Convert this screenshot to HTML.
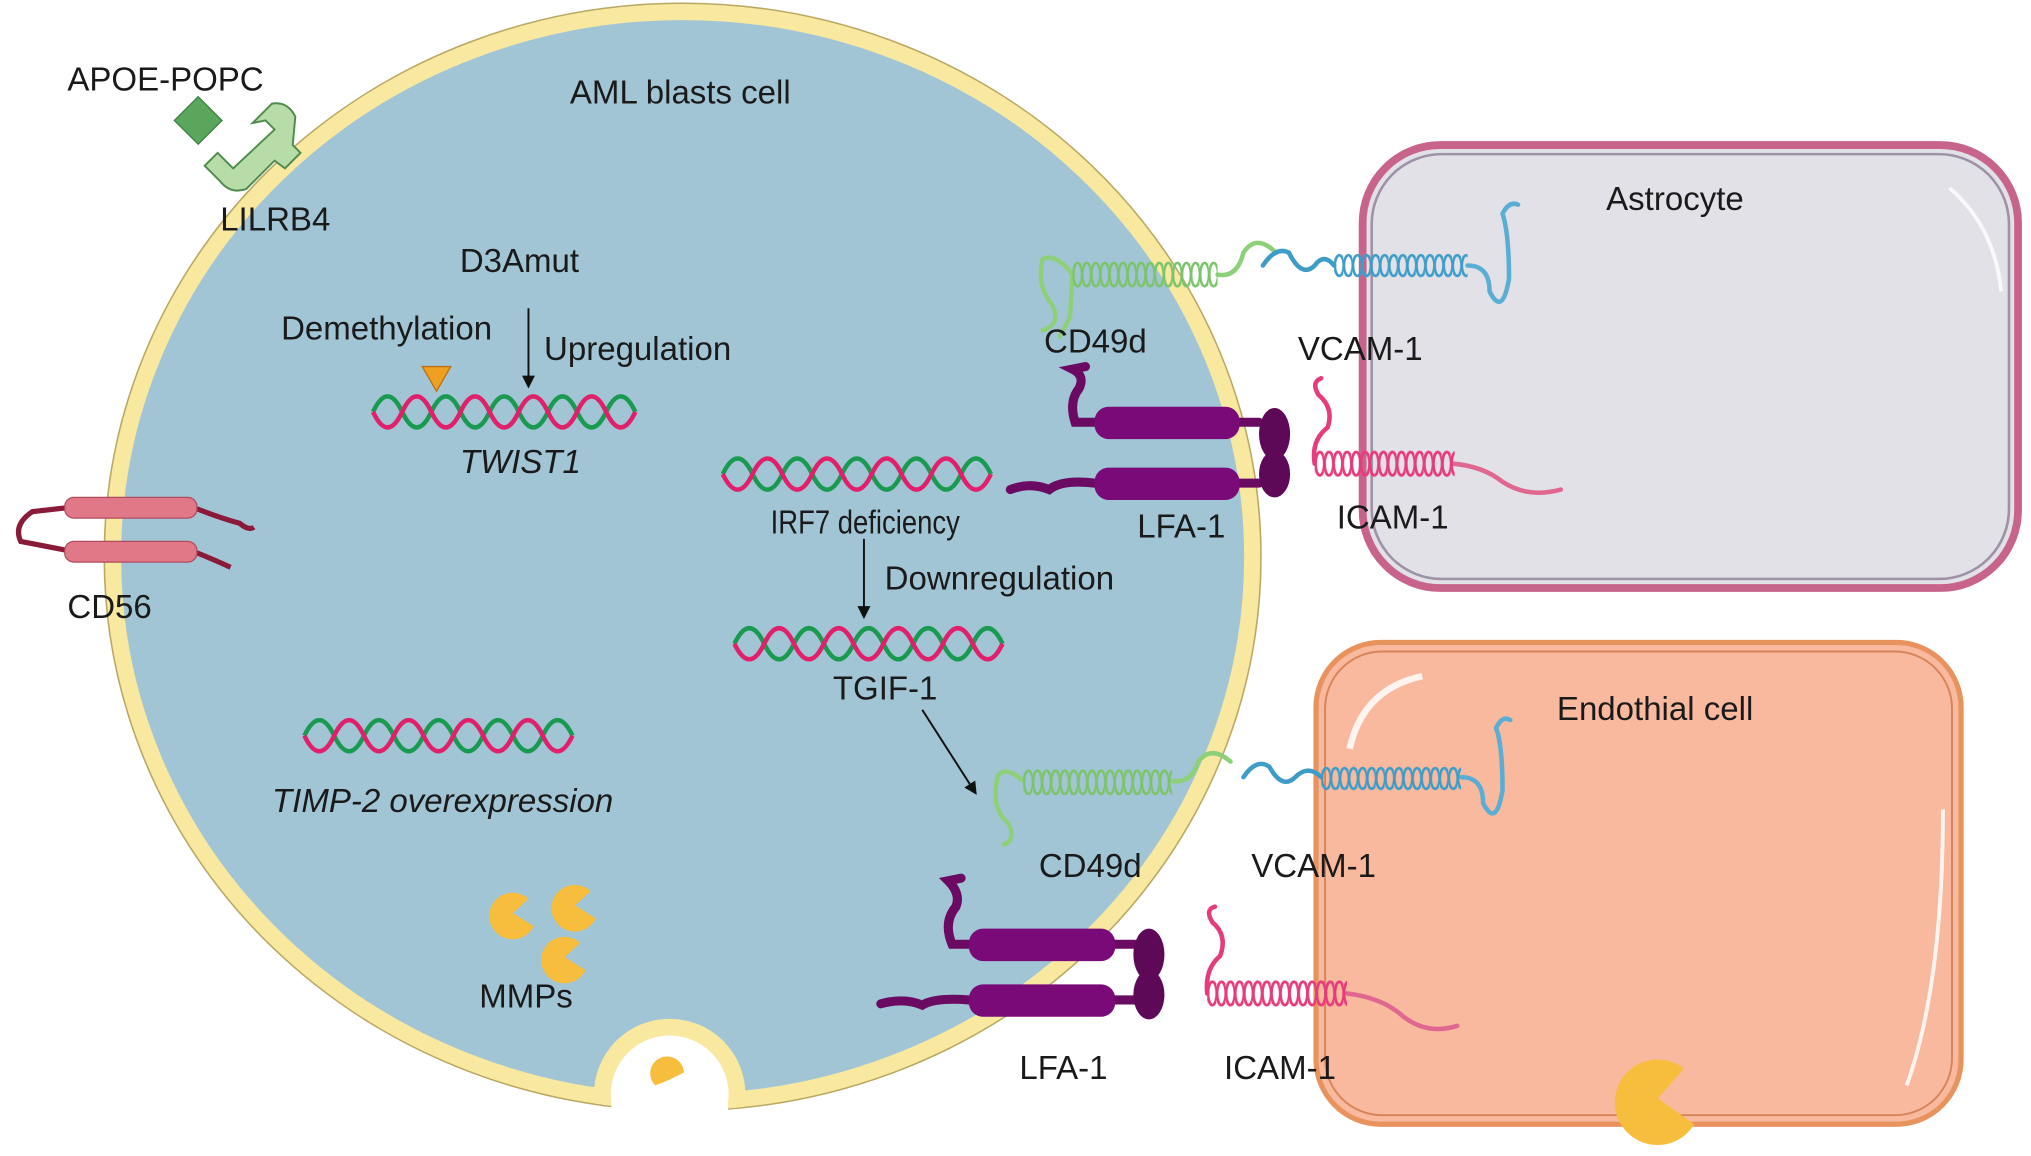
<!DOCTYPE html>
<html><head><meta charset="utf-8"><style>
html,body{margin:0;padding:0;background:#fff;width:2031px;height:1156px;overflow:hidden}
svg{display:block}
text{font-family:"Liberation Sans",Arial,sans-serif;font-size:25.5px;fill:#1a1a1a}
</style></head><body>
<svg width="2031" height="1156" viewBox="0 0 1568 892.5" preserveAspectRatio="none" xmlns="http://www.w3.org/2000/svg">
<defs>
<clipPath id="cellclip"><ellipse cx="527" cy="430" rx="446" ry="427"/></clipPath>
<pattern id="cg" width="7" height="24" patternUnits="userSpaceOnUse"><ellipse cx="4" cy="12" rx="3.4" ry="9" fill="none" stroke="#7cc46a" stroke-width="2"/></pattern>
<pattern id="cb" width="7" height="24" patternUnits="userSpaceOnUse"><ellipse cx="4" cy="12" rx="3.4" ry="8" fill="none" stroke="#3d9cc8" stroke-width="2"/></pattern>
<pattern id="cp" width="7" height="24" patternUnits="userSpaceOnUse"><ellipse cx="4" cy="12" rx="3.4" ry="9" fill="none" stroke="#e63c7c" stroke-width="2.2"/></pattern>
<marker id="ah" markerWidth="10" markerHeight="10" refX="8" refY="5" orient="auto" markerUnits="userSpaceOnUse"><path d="M0,0 L10,5 L0,10 Z" fill="#111"/></marker>
</defs>

<rect x="1052" y="112" width="506" height="342" rx="60" fill="#e2e1e8" stroke="#c8648c" stroke-width="6"/>
<rect x="1059" y="119" width="492" height="328" rx="54" fill="none" stroke="#9e92a6" stroke-width="2"/>
<path d="M1505 145 Q1540 175 1545 225" stroke="#fff" stroke-width="3" fill="none" opacity="0.8"/>
<rect x="1016" y="496" width="498" height="372" rx="50" fill="#f9b99e" stroke="#e8935e" stroke-width="4"/>
<rect x="1023" y="503" width="484" height="358" rx="44" fill="none" stroke="#d8845a" stroke-width="1.5"/>
<path d="M1042 578 Q1052 532 1098 522" stroke="#fff" stroke-width="5" fill="none" opacity="0.85"/>
<path d="M1500 625 Q1500 760 1472 838" stroke="#fff" stroke-width="3" fill="none" opacity="0.85"/>

<ellipse cx="527" cy="430" rx="440" ry="421" fill="#a2c5d6" stroke="#f8e8a0" stroke-width="13"/>
<ellipse cx="527" cy="430" rx="446.5" ry="427.5" fill="none" stroke="#b8a862" stroke-width="1.2"/>
<g clip-path="url(#cellclip)"><circle cx="517" cy="845" r="52" fill="#fff" stroke="#f8e8a0" stroke-width="13"/></g>
<rect x="472" y="842" width="90" height="25" fill="#fff"/>
<path d="M506 838 A13 13 0 1 1 528 828 L516 834 Z" fill="#f7bd3c"/>

<rect x="140" y="80" width="26" height="26" fill="#5aa65c" stroke="#3f7f44" transform="rotate(45 153 93)"/>
<path d="M195 95 L210 80 Q222 78 228 90 L226 112 L232 118 L220 130 L212 124 L190 146 Q178 150 170 140 L158 128 L168 118 L180 130 L212 100 L205 93 Z" fill="#b8dca8" stroke="#4f8a4f" stroke-width="1.5"/>

<g fill="none" stroke-width="3.5">
<path d="M288 318 q11.25 -24 22.5 0 t22.5 0 t22.5 0 t22.5 0 t22.5 0 t22.5 0 t22.5 0 t22.5 0 t22.5 0" stroke="#1a9a50"/>
<path d="M288 318 q11.25 24 22.5 0 t22.5 0 t22.5 0 t22.5 0 t22.5 0 t22.5 0 t22.5 0 t22.5 0 t22.5 0" stroke="#e0206a"/>
<path d="M558 366 q11.5 -24 23 0 t23 0 t23 0 t23 0 t23 0 t23 0 t23 0 t23 0 t23 0" stroke="#1a9a50"/>
<path d="M558 366 q11.5 24 23 0 t23 0 t23 0 t23 0 t23 0 t23 0 t23 0 t23 0 t23 0" stroke="#e0206a"/>
<path d="M567 497 q11.5 -24 23 0 t23 0 t23 0 t23 0 t23 0 t23 0 t23 0 t23 0 t23 0" stroke="#1a9a50"/>
<path d="M567 497 q11.5 24 23 0 t23 0 t23 0 t23 0 t23 0 t23 0 t23 0 t23 0 t23 0" stroke="#e0206a"/>
<path d="M235 568 q11.5 -24 23 0 t23 0 t23 0 t23 0 t23 0 t23 0 t23 0 t23 0 t23 0" stroke="#1a9a50"/>
<path d="M235 568 q11.5 24 23 0 t23 0 t23 0 t23 0 t23 0 t23 0 t23 0 t23 0 t23 0" stroke="#e0206a"/>
</g>
<path d="M326 283 L348 283 L337 302 Z" fill="#f0a020" stroke="#b87010"/>

<g stroke="#111" stroke-width="1.5" fill="none">
<line x1="408" y1="238" x2="408" y2="298" marker-end="url(#ah)"/>
<line x1="667" y1="416" x2="667" y2="476" marker-end="url(#ah)"/>
<line x1="712" y1="548" x2="753" y2="612" marker-end="url(#ah)"/>
</g>

<g fill="none" stroke="#8a1a3a" stroke-width="4">
<path d="M52 392 L25 395 Q10 405 16 418 L52 425"/>
<path d="M150 392 Q170 400 185 404 Q192 410 196 407"/>
<path d="M150 426 Q165 432 178 438"/>
</g>
<rect x="50" y="384" width="102" height="16" rx="7" fill="#e07888" stroke="#b04c60"/>
<rect x="50" y="418" width="102" height="16" rx="7" fill="#e07888" stroke="#b04c60"/>

<g fill="none" stroke-linecap="round">
<path d="M828 212 Q815 195 805 200 Q800 220 812 235 Q820 250 805 255" stroke="#8ed07a" stroke-width="3.5"/>
<path d="M828 212 L826 245 L818 260" stroke="#8ed07a" stroke-width="3.5"/>
<path d="M940 212 Q955 215 960 195 Q970 180 985 195" stroke="#8ed07a" stroke-width="3.5"/>
<path d="M975 205 Q985 190 995 195 Q1005 215 1015 205 Q1022 195 1030 205" stroke="#3d9cc8" stroke-width="3.5"/>
<path d="M1133 205 Q1150 205 1150 225 Q1160 245 1165 215 Q1165 180 1160 165 Q1165 155 1172 158" stroke="#5aaed4" stroke-width="3.5"/>
</g>
<g transform="translate(828 200)"><rect width="112" height="24" fill="url(#cg)"/></g>
<g transform="translate(1030 193)"><rect width="103" height="24" fill="url(#cb)"/></g>

<g fill="none" stroke="#6a0a62" stroke-width="7" stroke-linecap="round">
<path d="M845 326 L830 326 Q825 310 833 300 Q838 290 828 285 L838 283"/>
<path d="M845 373 Q820 370 810 378 Q795 372 780 378"/>
<path d="M955 326 L972 326 M955 373 L972 373"/>
</g>
<rect x="845" y="314" width="112" height="25" rx="11" fill="#7a0a78"/>
<rect x="845" y="361" width="112" height="25" rx="11" fill="#7a0a78"/>
<ellipse cx="984" cy="335" rx="12" ry="20" fill="#5e0858"/>
<ellipse cx="984" cy="366" rx="12" ry="18" fill="#5e0858"/>
<g fill="none" stroke-width="3.5" stroke-linecap="round">
<path d="M1015 358 Q1012 340 1025 330 Q1030 315 1018 305 Q1012 295 1020 292" stroke="#e63c7c"/>
<path d="M1122 358 Q1145 360 1160 372 Q1180 385 1205 378" stroke="#e06890"/>
</g>
<g transform="translate(1015 346)"><rect width="108" height="24" fill="url(#cp)"/></g>

<g fill="none" stroke-linecap="round">
<path d="M790 603 Q775 590 770 600 Q765 625 778 635 Q785 648 775 652" stroke="#8ed07a" stroke-width="3.5"/>
<path d="M905 603 Q920 605 925 588 Q935 575 950 588" stroke="#8ed07a" stroke-width="3.5"/>
<path d="M960 600 Q970 585 980 592 Q990 610 1000 600 Q1010 590 1020 600" stroke="#3d9cc8" stroke-width="3.5"/>
<path d="M1128 600 Q1145 600 1145 620 Q1155 640 1160 610 Q1160 575 1155 562 Q1160 552 1166 556" stroke="#5aaed4" stroke-width="3.5"/>
</g>
<g transform="translate(790 592)"><rect width="115" height="24" fill="url(#cg)"/></g>
<g transform="translate(1020 589)"><rect width="108" height="24" fill="url(#cb)"/></g>

<g fill="none" stroke="#6a0a62" stroke-width="7" stroke-linecap="round">
<path d="M748 729 L735 729 Q728 712 738 700 Q742 690 732 680 L742 678"/>
<path d="M748 772 Q722 770 712 776 Q698 770 680 775"/>
<path d="M860 729 L876 729 M860 772 L876 772"/>
</g>
<rect x="748" y="717" width="113" height="25" rx="11" fill="#7a0a78"/>
<rect x="748" y="760" width="113" height="25" rx="11" fill="#7a0a78"/>
<ellipse cx="887" cy="737" rx="12" ry="20" fill="#5e0858"/>
<ellipse cx="887" cy="768" rx="12" ry="19" fill="#5e0858"/>
<g fill="none" stroke-width="3.5" stroke-linecap="round">
<path d="M932 767 Q930 748 942 738 Q948 722 936 712 Q930 702 938 700" stroke="#e63c7c"/>
<path d="M1040 767 Q1065 770 1080 782 Q1100 800 1125 792" stroke="#e06890"/>
</g>
<g transform="translate(932 755)"><rect width="108" height="24" fill="url(#cp)"/></g>

<g fill="#f7bd3c">
<path d="M408 694 A18 18 0 1 0 412 715 L396 705 Z"/>
<path d="M456 688 A18 18 0 1 0 460 709 L444 699 Z"/>
<path d="M448 728 A18 18 0 1 0 452 749 L436 739 Z"/>
<path d="M1300 825 A33 33 0 1 0 1308 868 L1280 848 Z"/>
</g>

<text x="52" y="70">APOE-POPC</text>
<text x="440" y="80" font-size="24">AML blasts cell</text>
<text x="170" y="178">LILRB4</text>
<text x="355" y="210">D3Amut</text>
<text x="217" y="262">Demethylation</text>
<text x="420" y="278">Upregulation</text>
<text x="355" y="365" font-style="italic">TWIST1</text>
<text x="595" y="412" font-size="21" textLength="146" lengthAdjust="spacingAndGlyphs">IRF7 deficiency</text>
<text x="683" y="455">Downregulation</text>
<text x="643" y="540">TGIF-1</text>
<text x="52" y="477">CD56</text>
<text x="210" y="627" font-style="italic">TIMP-2 overexpression</text>
<text x="370" y="778">MMPs</text>
<text x="806" y="272">CD49d</text>
<text x="1002" y="278">VCAM-1</text>
<text x="878" y="415">LFA-1</text>
<text x="1032" y="408">ICAM-1</text>
<text x="1240" y="162">Astrocyte</text>
<text x="1202" y="556">Endothial cell</text>
<text x="802" y="677">CD49d</text>
<text x="966" y="677">VCAM-1</text>
<text x="787" y="833">LFA-1</text>
<text x="945" y="833">ICAM-1</text>
</svg>
</body></html>
